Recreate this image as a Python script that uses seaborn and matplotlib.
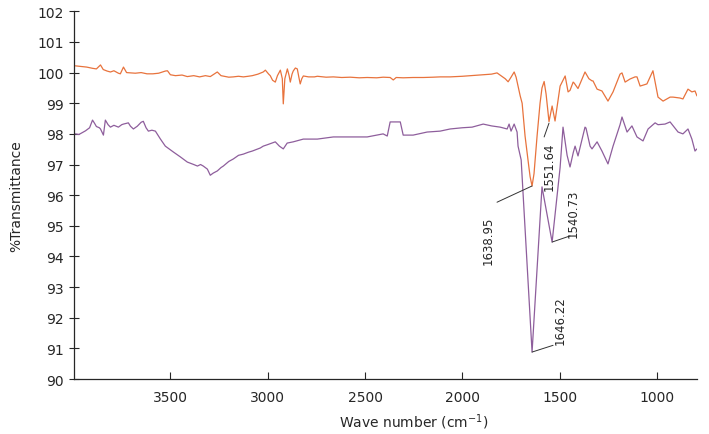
import numpy as np
import pandas as pd
import seaborn as sns
from matplotlib import pyplot as plt

# upper trace (orange)
upper_wn = [3988, 3960, 3930, 3900, 3880, 3859, 3845, 3825, 3808, 3790, 3767,
            3757, 3741, 3725, 3705, 3680, 3650, 3620, 3590, 3560, 3526, 3515,
            3500, 3474, 3440, 3413, 3380, 3350, 3320, 3295, 3259, 3240, 3200,
            3177, 3150, 3125, 3100, 3079, 3050, 3023, 3012, 2995, 2987, 2975,
            2961, 2950, 2935, 2925, 2920, 2912, 2899, 2890, 2884, 2875, 2869,
            2858, 2848, 2840, 2833, 2825, 2817, 2790, 2760, 2745, 2700, 2663,
            2620, 2576, 2530, 2489, 2440, 2407, 2371, 2355, 2340, 2304, 2253,
            2200, 2150, 2114, 2063, 2000, 1950, 1893, 1850, 1822, 1806, 1780,
            1765, 1750, 1734, 1724, 1703, 1693, 1678, 1660, 1652, 1642, 1632,
            1616, 1601, 1591, 1580, 1570, 1560, 1555, 1539, 1524, 1498, 1472,
            1457, 1447, 1431, 1426, 1406, 1370, 1350, 1334, 1329, 1308, 1283,
            1252, 1226, 1190, 1180, 1164, 1139, 1113, 1103, 1087, 1052, 1021,
            1010, 995, 969, 933, 918, 882, 867, 841, 821, 805, 795]
upper_t = [100.22, 100.20, 100.18, 100.14, 100.12, 100.25, 100.10, 100.05,
           100.02, 100.06, 99.98, 99.96, 100.18, 100.00, 99.99, 99.98, 100.00,
           99.96, 99.96, 99.98, 100.05, 100.06, 99.93, 99.90, 99.92, 99.87,
           99.90, 99.86, 99.90, 99.87, 100.02, 99.90, 99.85, 99.86, 99.88,
           99.86, 99.88, 99.90, 99.95, 100.02, 100.08, 99.95, 99.90, 99.75,
           99.69, 99.90, 100.08, 99.80, 98.98, 99.80, 100.12, 99.90, 99.69,
           99.95, 100.05, 100.15, 100.12, 99.85, 99.63, 99.80, 99.89, 99.86,
           99.86, 99.88, 99.85, 99.86, 99.84, 99.85, 99.83, 99.84, 99.83, 99.85,
           99.84, 99.76, 99.84, 99.83, 99.84, 99.84, 99.85, 99.86, 99.86, 99.88,
           99.90, 99.93, 99.95, 99.99, 99.92, 99.80, 99.70, 99.85, 100.02,
           99.85, 99.24, 99.00, 97.93, 97.00, 96.60, 96.30, 96.70, 97.95, 99.00,
           99.50, 99.71, 99.30, 98.70, 98.40, 98.91, 98.42, 99.56, 99.89, 99.37,
           99.42, 99.69, 99.66, 99.48, 100.02, 99.80, 99.73, 99.73, 99.46, 99.40,
           99.07, 99.37, 99.95, 99.99, 99.69, 99.79, 99.86, 99.86, 99.56, 99.63,
           100.06, 99.70, 99.20, 99.07, 99.20, 99.20, 99.17, 99.14, 99.46, 99.37,
           99.40, 99.24]

# lower trace (purple)
lower_wn = [3988, 3970, 3950, 3936, 3915, 3900, 3890, 3880, 3865, 3859, 3844,
            3834, 3820, 3808, 3790, 3767, 3750, 3741, 3716, 3705, 3690, 3670,
            3650, 3639, 3625, 3613, 3595, 3577, 3551, 3526, 3485, 3449, 3413,
            3380, 3361, 3345, 3331, 3310, 3295, 3280, 3259, 3240, 3228, 3200,
            3177, 3150, 3125, 3100, 3079, 3038, 3023, 3000, 2961, 2940, 2920,
            2900, 2869, 2817, 2745, 2663, 2576, 2489, 2407, 2386, 2371, 2319,
            2304, 2253, 2181, 2114, 2063, 2000, 1950, 1893, 1850, 1806, 1770,
            1760, 1750, 1734, 1719, 1714, 1698, 1642, 1591, 1539, 1498, 1483,
            1462, 1447, 1430, 1421, 1406, 1370, 1365, 1344, 1334, 1308, 1283,
            1252, 1226, 1190, 1180, 1154, 1129, 1103, 1072, 1046, 1010, 995,
            959, 933, 892, 867, 841, 821, 805, 795]
lower_t = [98.00, 97.98, 98.05, 98.10, 98.20, 98.45, 98.35, 98.24, 98.20,
           98.16, 97.96, 98.45, 98.30, 98.22, 98.28, 98.22, 98.30, 98.32, 98.36,
           98.25, 98.16, 98.25, 98.38, 98.41, 98.20, 98.09, 98.12, 98.09, 97.83,
           97.60, 97.41, 97.25, 97.08, 97.00, 96.95, 97.00, 96.95, 96.85, 96.65,
           96.72, 96.79, 96.90, 96.95, 97.10, 97.18, 97.30, 97.34, 97.40, 97.44,
           97.54, 97.60, 97.65, 97.74, 97.60, 97.51, 97.70, 97.74, 97.83, 97.83,
           97.90, 97.90, 97.90, 98.00, 97.93, 98.39, 98.39, 97.96, 97.96, 98.06,
           98.09, 98.16, 98.20, 98.22, 98.32, 98.26, 98.22, 98.16, 98.32, 98.09,
           98.32, 98.06, 97.60, 97.15, 90.88, 96.27, 94.47, 96.90, 98.22, 97.30,
           96.92, 97.40, 97.60, 97.28, 98.22, 98.19, 97.60, 97.51, 97.74, 97.44,
           97.02, 97.60, 98.30, 98.55, 98.06, 98.26, 97.90, 97.77, 98.16, 98.36,
           98.30, 98.32, 98.39, 98.06, 98.00, 98.16, 97.83, 97.44, 97.51]

# peak labels: text, label position, point on curve
peak_labels = ["1638.95", "1551.64", "1540.73", "1646.22"]
label_wn = [1868, 1555, 1431, 1498]
label_t = [94.55, 96.95, 95.42, 91.93]
line_start_wn = [1822, 1580, 1447, 1534]
line_start_t = [95.77, 97.90, 94.67, 91.10]
line_end_wn = [1642, 1555, 1539, 1642]
line_end_t = [96.30, 98.35, 94.47, 90.88]

sns.set_style("ticks")
plt.rcParams['font.family'] = ['DejaVu Sans']

my_dpi = 100
fig = plt.figure(figsize=(709 / my_dpi, 435 / my_dpi), dpi=my_dpi)
ax = fig.add_axes([0.1044, 0.1264, 0.8786, 0.8453])

df_up = pd.DataFrame({'wn': upper_wn, 't': upper_t})
df_lo = pd.DataFrame({'wn': lower_wn, 't': lower_t})
sns.lineplot(data=df_up, x='wn', y='t', color='#E8733D', lw=0.9,
             estimator=None, ax=ax)
sns.lineplot(data=df_lo, x='wn', y='t', color='#8E5E9C', lw=0.9,
             estimator=None, ax=ax)

for txt, tx, ty, x0, y0, x1, y1 in zip(peak_labels, label_wn, label_t,
                                      line_start_wn, line_start_t,
                                      line_end_wn, line_end_t):
    ax.plot([x0, x1], [y0, y1], color='#333333', lw=0.7)
    ax.text(tx, ty, txt, rotation=90, ha='center', va='center', fontsize=8.5)

ax.set_xlim(3995, 795)
ax.set_ylim(90, 102)
ax.set_xticks([3500, 3000, 2500, 2000, 1500, 1000])
ax.set_yticks(np.arange(90, 103, 1))
sns.despine(ax=ax)
ax.tick_params(axis='x', direction='in', length=5, width=0.8, pad=8,
               labelsize=10)
ax.tick_params(axis='y', direction='inout', length=7, width=0.8, pad=4,
               labelsize=10)
ax.spines['left'].set_linewidth(0.9)
ax.spines['bottom'].set_linewidth(0.9)
ax.set_xlabel("Wave number (cm$^{-1}$)", fontsize=10)
ax.set_ylabel("%Transmittance", fontsize=10)
ax.xaxis.set_label_coords(0.546, -0.088)
ax.yaxis.set_label_coords(-0.082, 0.5)

plt.savefig('out.png', dpi=my_dpi)
